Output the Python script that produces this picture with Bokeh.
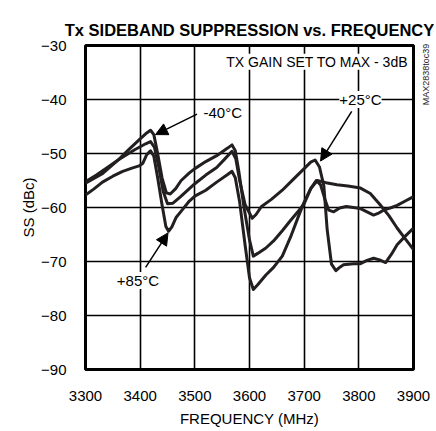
import math
from bokeh.plotting import figure
from bokeh.models import Range1d, FixedTicker, Label, Arrow, NormalHead
from bokeh.embed import file_html
from bokeh.resources import INLINE

FONT = "Liberation Sans"

# ---- data ----
x_ticks = [3300, 3400, 3500, 3600, 3700, 3800, 3900]
y_ticks = [-90, -80, -70, -60, -50, -40, -30]

freq_m40 = [3300, 3320, 3340, 3361, 3380, 3400, 3412, 3419, 3425, 3432, 3440, 3448, 3455, 3465,
            3475, 3490, 3500, 3520, 3540, 3560, 3568, 3574, 3580, 3590, 3600, 3607, 3615, 3630,
            3644, 3660, 3675, 3690, 3700, 3712, 3724, 3740, 3760, 3780, 3803, 3821, 3839, 3855,
            3870, 3885, 3900]
ss_m40 = [-55.2, -54.0, -52.6, -51.1, -49.2, -47.3, -46.2, -45.7, -46.5, -50.0, -54.5, -57.3, -57.5, -56.5,
          -55.0, -53.6, -52.8, -51.5, -50.4, -49.0, -48.4, -49.5, -53.0, -60.0, -66.0, -69.0, -68.5, -67.5,
          -66.2, -64.3, -62.4, -60.6, -59.3, -56.5, -55.0, -55.4, -55.8, -56.0, -56.4, -57.4, -59.5, -61.5,
          -63.8, -65.8, -67.8]

freq_25 = [3300, 3330, 3361, 3390, 3410, 3419, 3426, 3434, 3442, 3450, 3460, 3474, 3490, 3500,
           3520, 3540, 3555, 3568, 3575, 3582, 3592, 3605, 3612, 3622, 3640, 3660, 3680, 3700,
           3712, 3720, 3728, 3736, 3742, 3750, 3758, 3766, 3772, 3790, 3803, 3815, 3827, 3838,
           3849, 3860, 3870, 3885, 3900]
ss_25 = [-55.5, -53.8, -51.1, -49.3, -48.2, -47.8, -48.8, -52.5, -57.0, -59.3, -59.2, -58.0, -56.5, -55.6,
         -54.0, -52.6, -51.0, -49.6, -51.0, -55.0, -59.5, -62.0, -61.3, -59.8, -58.5, -56.8, -54.8, -52.8,
         -51.6, -51.2, -52.5, -56.0, -64.0, -70.5, -71.7, -71.0, -70.6, -70.4, -70.4, -69.8, -69.4, -69.7,
         -70.2, -68.6, -66.9, -65.3, -63.8]

freq_85 = [3300, 3315, 3331, 3350, 3368, 3385, 3398, 3405, 3412, 3419, 3425, 3432, 3440, 3447,
           3452, 3458, 3466, 3474, 3490, 3500, 3520, 3540, 3560, 3568, 3574, 3582, 3592, 3600,
           3607, 3615, 3630, 3644, 3660, 3675, 3690, 3700, 3712, 3722, 3730, 3738, 3745, 3754,
           3765, 3777, 3790, 3803, 3815, 3827, 3835, 3845, 3860, 3870, 3885, 3900]
ss_85 = [-57.7, -56.6, -55.3, -54.2, -53.3, -52.7, -52.3, -51.8, -50.2, -49.5, -50.5, -54.5, -59.5, -63.5,
         -64.4, -63.6, -61.8, -60.8, -58.8, -57.9, -56.8, -55.3, -53.9, -53.3, -54.5, -59.0, -67.0, -73.0,
         -75.2, -74.3, -72.5, -71.1, -69.0, -65.5, -61.5, -59.0, -56.5, -55.0, -55.8, -58.5, -60.5, -60.8,
         -60.1, -59.8, -60.0, -60.2, -60.8, -61.4, -61.1, -60.5, -60.0, -59.6, -58.8, -58.0]

curve_color = "#231f20"

p = figure(width=434, height=429, output_backend="svg", toolbar_location=None,
           x_range=Range1d(3300, 3900), y_range=Range1d(-90, -30),
           min_border_left=85, min_border_right=21, min_border_top=45, min_border_bottom=56)

p.title.text = "Tx SIDEBAND SUPPRESSION vs. FREQUENCY"
p.title.text_font = FONT
p.title.text_font_size = "16.5px"
p.title.text_font_style = "bold"
p.title.align = "center"
p.title.text_color = "black"
p.title.standoff = 14

p.outline_line_color = "black"
p.outline_line_width = 3
p.background_fill_color = "white"
p.border_fill_color = "white"

for ax in (p.xaxis[0], p.yaxis[0]):
    ax.axis_line_color = None
    ax.major_tick_line_color = None
    ax.minor_tick_line_color = None
    ax.major_label_text_font = FONT
    ax.major_label_text_font_size = "15px"
    ax.major_label_text_color = "black"
    ax.axis_label_text_font = FONT
    ax.axis_label_text_font_size = "15px"
    ax.axis_label_text_font_style = "normal"
    ax.axis_label_text_color = "black"

p.xaxis.ticker = FixedTicker(ticks=x_ticks)
p.yaxis.ticker = FixedTicker(ticks=y_ticks)
p.xaxis.axis_label = "FREQUENCY (MHz)"
p.yaxis.axis_label = "SS (dBc)"
p.xaxis.major_label_standoff = 15
p.yaxis.major_label_standoff = 13
p.xaxis.axis_label_standoff = 6
p.yaxis.axis_label_standoff = 1

p.xgrid.ticker = FixedTicker(ticks=x_ticks)
p.ygrid.ticker = FixedTicker(ticks=y_ticks)
for g in (p.xgrid[0], p.ygrid[0]):
    g.grid_line_color = "black"
    g.grid_line_width = 1.6

for fx, fy in ((freq_m40, ss_m40), (freq_25, ss_25), (freq_85, ss_85)):
    p.line(fx, fy, line_color=curve_color, line_width=3, line_join="round")

def lab(x, y, text, size="15px", align="center", bg=None):
    l = Label(x=x, y=y, text=text, text_font=FONT, text_font_size=size,
              text_align=align, text_baseline="middle", text_color="black",
              background_fill_color=bg, background_fill_alpha=1.0 if bg else 0.0)
    p.add_layout(l)

lab(3890, -33.0, "TX GAIN SET TO MAX - 3dB", size="14px", align="right", bg="white")
lab(3803, -40.0, "+25°C", bg="white")
lab(3551, -42.4, "-40°C")
lab(3396, -73.5, "+85°C", bg="white")

def arrow(x0, y0, x1, y1):
    p.add_layout(Arrow(end=NormalHead(size=12, fill_color="black", line_color="black"),
                       x_start=x0, y_start=y0, x_end=x1, y_end=y1,
                       line_color="black", line_width=1.5))

arrow(3504, -42.7, 3428, -46.5)
arrow(3787, -42.2, 3730, -51.4)
arrow(3410, -71.1, 3451, -64.7)

# small part-number tag in the right margin (placed in the right side panel)
side = Label(x=12, y=295, x_units="screen", y_units="screen", text="MAX2838toc39",
             text_font=FONT, text_font_size="9px", angle=math.pi / 2,
             text_align="center", text_baseline="middle", text_color="#222222")
p.add_layout(side, "right")

open("out.html", "w").write(file_html(p, INLINE))
